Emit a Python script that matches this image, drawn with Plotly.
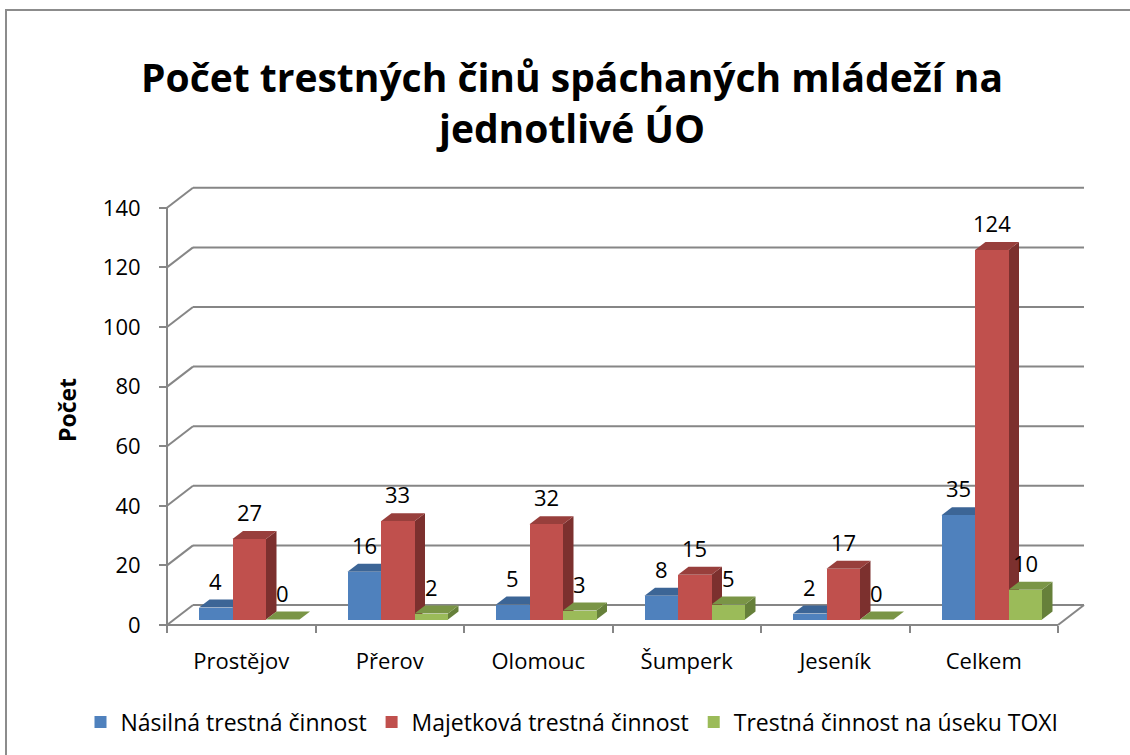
import plotly.graph_objects as go

# ---------------- data ----------------
categories = ["Prostějov", "Přerov", "Olomouc", "Šumperk", "Jeseník", "Celkem"]
series_names = ["Násilná trestná činnost", "Majetková trestná činnost",
                "Trestná činnost na úseku TOXI"]
violent = [4, 16, 5, 8, 2, 35]
property_crime = [27, 33, 32, 15, 17, 124]
toxi = [0, 2, 3, 5, 0, 10]
y_ticks = [0, 20, 40, 60, 80, 100, 120, 140]

series_values = [violent, property_crime, toxi]
front_colors = ["#4F81BD", "#C0504D", "#9BBB59"]
top_colors = ["#3C6596", "#983F3C", "#7A9546"]
side_colors = ["#34577F", "#7C302E", "#66803A"]

FONT = "Open Sans"
GRAY = "#868686"

# ---------------- geometry (pixels) ----------------
W, H = 1130, 755
PL, PR, PT, PB = 30, 1125, 170, 650       # plot area in px (coordinate frame)
X0, KX = 167, 148.5                        # px of x=0, px per category
Y0, KY = 625, 2.98                          # px of value 0 (front plane), px per unit

def ux(px):
    return px / KX

def uy(px):
    return px / KY

x_range = [(PL - X0) / KX, (PR - X0) / KX]
y_range = [(Y0 - PB) / KY, (Y0 - PT) / KY]

wall = (ux(26), uy(20))       # depth offset of back wall
bar_off = (ux(8), uy(5.5))    # depth offset of bar front faces
depth = (ux(10.5), uy(8))     # depth of each bar
bw = ux(33.5)                 # bar width
n_cat = len(categories)

fig = go.Figure()
shapes = []

line = dict(color=GRAY, width=2)
# back wall grid lines and left wall slants
for v in y_ticks:
    shapes.append(dict(type="line", xref="x", yref="y", layer="below",
                       x0=0, y0=v, x1=wall[0], y1=v + wall[1], line=line))
    shapes.append(dict(type="line", xref="x", yref="y", layer="below",
                       x0=wall[0], y0=v + wall[1], x1=n_cat + wall[0],
                       y1=v + wall[1], line=line))
# front vertical axis
shapes.append(dict(type="line", xref="x", yref="y", layer="below",
                   x0=0, y0=0, x1=0, y1=y_ticks[-1], line=line))
# floor front edge and right slant
shapes.append(dict(type="line", xref="x", yref="y", layer="below",
                   x0=0, y0=0, x1=n_cat, y1=0, line=line))
shapes.append(dict(type="line", xref="x", yref="y", layer="below",
                   x0=n_cat, y0=0, x1=n_cat + wall[0], y1=wall[1], line=line))

annotations = []
base = bar_off[1]
for j, (name, vals) in enumerate(zip(series_names, series_values)):
    centers = [i + 0.5 + bar_off[0] + (j - 1) * bw for i in range(n_cat)]
    fig.add_trace(go.Bar(
        x=centers, y=vals, base=[base] * n_cat, width=[bw] * n_cat,
        name=name, marker=dict(color=front_colors[j], line=dict(width=0)),
        hoverinfo="skip"))

# 3D faces (side + top), ordered per category left to right
for i in range(n_cat):
    for j, vals in enumerate(series_values):
        c = i + 0.5 + bar_off[0] + (j - 1) * bw
        x0, x1 = c - bw / 2, c + bw / 2
        yb, yt = base, base + vals[i]
        ddx, ddy = depth
        if vals[i] > 0:
            side = (f"M {x1},{yb} L {x1+ddx},{yb+ddy} L {x1+ddx},{yt+ddy} "
                    f"L {x1},{yt} Z")
            shapes.append(dict(type="path", xref="x", yref="y", layer="below",
                               path=side, fillcolor=side_colors[j],
                               line=dict(width=0)))
        top = (f"M {x0},{yt} L {x1},{yt} L {x1+ddx},{yt+ddy} "
               f"L {x0+ddx},{yt+ddy} Z")
        shapes.append(dict(type="path", xref="x", yref="y", layer="below",
                           path=top, fillcolor=top_colors[j],
                           line=dict(width=0)))
        annotations.append(dict(x=c, y=yt, xref="x", yref="y", text=str(vals[i]),
                                showarrow=False, yshift=27,
                                font=dict(family=FONT, size=22, color="black")))

# outer chart border (paper coords from px)
def paper_x(px):
    return (px - PL) / (PR - PL)

def paper_y(py):
    return (PB - py) / (PB - PT)

shapes.append(dict(type="rect", xref="paper", yref="paper",
                   x0=paper_x(6), y0=paper_y(10), x1=paper_x(W + 20), y1=paper_y(H + 20),
                   line=dict(color="#8C8C8C", width=2), fillcolor="rgba(0,0,0,0)"))

fig.update_layout(
    width=W, height=H, autosize=False,
    margin=dict(l=PL, r=W - PR, t=PT, b=H - PB, pad=0),
    paper_bgcolor="white", plot_bgcolor="white",
    barmode="overlay", bargap=0,
    title=dict(text="<b>Počet trestných činů spáchaných mládeží na<br>jednotlivé ÚO</b>",
               x=572 / W, xanchor="center", y=1 - 92 / H, yanchor="top",
               font=dict(family=FONT, size=39, color="black")),
    xaxis=dict(range=x_range, anchor="free", position=paper_y(Y0),
               tickmode="array", tickvals=[i + 0.5 for i in range(n_cat)],
               ticktext=categories, ticks="", showgrid=False, zeroline=False,
               showline=False, ticklabelstandoff=21,
               minor=dict(tickmode="linear", tick0=0, dtick=1, ticks="outside",
                          ticklen=7, tickcolor=GRAY, tickwidth=2, showgrid=False),
               tickfont=dict(family=FONT, size=22, color="black")),
    yaxis=dict(range=y_range, anchor="free", position=paper_x(X0),
               tickmode="array", tickvals=y_ticks, ticks="outside", ticklen=8,
               tickcolor=GRAY, tickwidth=2, showgrid=False, zeroline=False,
               showline=False, ticklabelstandoff=14,
               tickfont=dict(family=FONT, size=22, color="black"),
               title=dict(text="<b>Počet</b>", standoff=18,
                          font=dict(family=FONT, size=23, color="black"))),
    legend=dict(orientation="h", x=paper_x(572), xanchor="center",
                y=paper_y(722), yanchor="middle",
                font=dict(family=FONT, size=23, color="black"),
                itemclick=False),
    shapes=shapes,
    annotations=annotations,
    showlegend=True,
)

fig.write_html("out.html", config={"displayModeBar": False},
               post_script="document.body.style.margin='0';")
